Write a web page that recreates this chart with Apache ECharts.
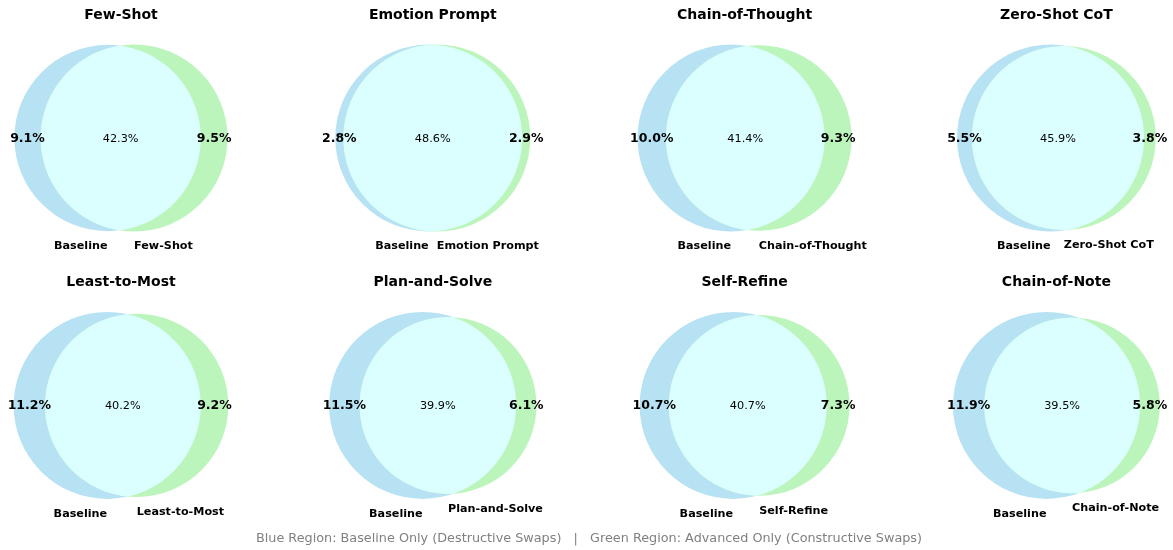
<!DOCTYPE html>
<html>
<head>
<meta charset="utf-8">
<script src="https://cdn.jsdelivr.net/npm/echarts@6/dist/echarts.min.js"></script>
<style>
html,body{margin:0;padding:0;background:#fff;}
#chart{width:1173px;height:550px;}
</style>
</head>
<body>
<div id="chart"></div>
<script>
// ---------- data ----------
const methods = ['Few-Shot', 'Emotion Prompt', 'Chain-of-Thought', 'Zero-Shot CoT',
                 'Least-to-Most', 'Plan-and-Solve', 'Self-Refine', 'Chain-of-Note'];
const baselineName = 'Baseline';
const baselineOnly = [9.1, 2.8, 10.0, 5.5, 11.2, 11.5, 10.7, 11.9];   // blue (destructive swaps)
const bothCorrect  = [42.3, 48.6, 41.4, 45.9, 40.2, 39.9, 40.7, 39.5]; // intersection
const methodOnly   = [9.5, 2.9, 9.3, 3.8, 9.2, 6.1, 7.3, 5.8];         // green (constructive swaps)
const footnote = 'Blue Region: Baseline Only (Destructive Swaps)   |   Green Region: Advanced Only (Constructive Swaps)';

// ---------- layout / style ----------
const FONT = '"DejaVu Sans", "Liberation Sans", sans-serif';
const COL_X0 = 121, COL_DX = 311.8;
const ROW_Y = [138, 405.4];
const GRID_W = 230, GRID_H = 200;
const RMAX_PX = 93.5;
const BLUE = '#b7e2f3', GREEN = '#bcf5bc', MIX = '#dbffff';

function lensArea(d, r1, r2) {
  if (d >= r1 + r2) return 0;
  if (d <= Math.abs(r1 - r2)) return Math.PI * Math.min(r1, r2) ** 2;
  const a1 = r1 * r1 * Math.acos((d * d + r1 * r1 - r2 * r2) / (2 * d * r1));
  const a2 = r2 * r2 * Math.acos((d * d + r2 * r2 - r1 * r1) / (2 * d * r2));
  const k = 0.5 * Math.sqrt((-d + r1 + r2) * (d + r1 - r2) * (d - r1 + r2) * (d + r1 + r2));
  return a1 + a2 - k;
}

// geometry in data units (area ~ percentage)
const geom = methods.map((m, i) => {
  const A = baselineOnly[i] + bothCorrect[i];
  const B = methodOnly[i] + bothCorrect[i];
  const ra = Math.sqrt(A / Math.PI), rb = Math.sqrt(B / Math.PI);
  let lo = Math.abs(ra - rb) + 1e-9, hi = ra + rb;
  for (let k = 0; k < 100; k++) {
    const mid = (lo + hi) / 2;
    if (lensArea(mid, ra, rb) > bothCorrect[i]) lo = mid; else hi = mid;
  }
  const d = (lo + hi) / 2;
  const left = -ra, right = d + rb;
  const shift = -(left + right) / 2;
  return { ra, rb, d, xa: shift, xb: d + shift, rmax: Math.max(ra, rb) };
});

const grids = [], xAxes = [], yAxes = [], series = [], graphics = [];
methods.forEach((m, i) => {
  const col = i % 4, row = Math.floor(i / 4);
  const cx = COL_X0 + col * COL_DX, cy = ROW_Y[row];
  const g = geom[i];
  const R = g.rmax * (GRID_H / 2) / RMAX_PX;
  grids.push({ left: cx - GRID_W / 2, top: cy - GRID_H / 2, width: GRID_W, height: GRID_H,
               containLabel: false, outerBoundsMode: 'none' });
  xAxes.push({ type: 'value', gridIndex: i, min: -R * GRID_W / GRID_H, max: R * GRID_W / GRID_H, show: false });
  yAxes.push({ type: 'value', gridIndex: i, min: -R, max: R, show: false });
  series.push({
    type: 'custom', xAxisIndex: i, yAxisIndex: i, silent: true, animation: false,
    data: [[0, 0]],
    renderItem: function (params, api) {
      const pa = api.coord([g.xa, 0]);
      const pb = api.coord([g.xb, 0]);
      const ra = api.size([g.ra, 0])[0];
      const rb = api.size([g.rb, 0])[0];
      const d = pb[0] - pa[0];
      const a = (d * d + ra * ra - rb * rb) / (2 * d);
      const h = Math.sqrt(Math.max(ra * ra - a * a, 0));
      const pts = [];
      const N = 120;
      // green arc (inside blue): from top via left to bottom
      const t1 = Math.atan2(-h, a - d), t2 = Math.atan2(h, a - d) - 2 * Math.PI;
      for (let k = 0; k <= N; k++) {
        const t = t1 + (t2 - t1) * k / N;
        pts.push([pb[0] + rb * Math.cos(t), pb[1] + rb * Math.sin(t)]);
      }
      // blue arc (inside green): from bottom via right to top
      const p2 = Math.atan2(h, a), p1 = Math.atan2(-h, a);
      for (let k = 0; k <= N; k++) {
        const t = p2 + (p1 - p2) * k / N;
        pts.push([pa[0] + ra * Math.cos(t), pa[1] + ra * Math.sin(t)]);
      }
      const yc = pa[1] + 0.7;
      const leftX = ((pa[0] - ra) + (pb[0] - rb)) / 2;
      const rightX = ((pa[0] + ra) + (pb[0] + rb)) / 2;
      const midX = ((pb[0] - rb) + (pa[0] + ra)) / 2;
      const txt = (x, y, s, font, align) => ({
        type: 'text', x: x, y: y,
        style: { text: s, font: font, fill: '#000', align: align, verticalAlign: 'middle' }
      });
      return {
        type: 'group',
        children: [
          { type: 'circle', shape: { cx: pa[0], cy: pa[1], r: ra }, style: { fill: BLUE } },
          { type: 'circle', shape: { cx: pb[0], cy: pb[1], r: rb }, style: { fill: GREEN } },
          { type: 'polygon', shape: { points: pts }, style: { fill: MIX } },
          txt(leftX, yc, baselineOnly[i].toFixed(1) + '%', 'bold 12.5px ' + FONT, 'center'),
          txt(midX, yc, bothCorrect[i].toFixed(1) + '%', '11.3px ' + FONT, 'center'),
          txt(rightX, yc, methodOnly[i].toFixed(1) + '%', 'bold 12.5px ' + FONT, 'center'),
          txt(pa[0], pa[1] + ra + 15, baselineName, 'bold 11.2px ' + FONT, 'right'),
          txt(pb[0], pb[1] + rb + 15, m, 'bold 11.2px ' + FONT, 'left')
        ]
      };
    }
  });
  graphics.push({
    type: 'text', x: cx, y: cy - 122.8,
    style: { text: m, font: 'bold 14px ' + FONT, fill: '#000', align: 'center', verticalAlign: 'middle',
             textAlign: 'center', textVerticalAlign: 'middle' }
  });
});
graphics.push({
  type: 'text', x: 589, y: 538.5,
  style: { text: footnote, font: '12.8px ' + FONT, fill: '#808080', align: 'center', verticalAlign: 'middle',
           textAlign: 'center', textVerticalAlign: 'middle' }
});

const chart = echarts.init(document.getElementById('chart'), null, { renderer: 'canvas' });
chart.setOption({
  backgroundColor: '#ffffff',
  animation: false,
  grid: grids, xAxis: xAxes, yAxis: yAxes,
  series: series,
  graphic: graphics
});
</script>
</body>
</html>
